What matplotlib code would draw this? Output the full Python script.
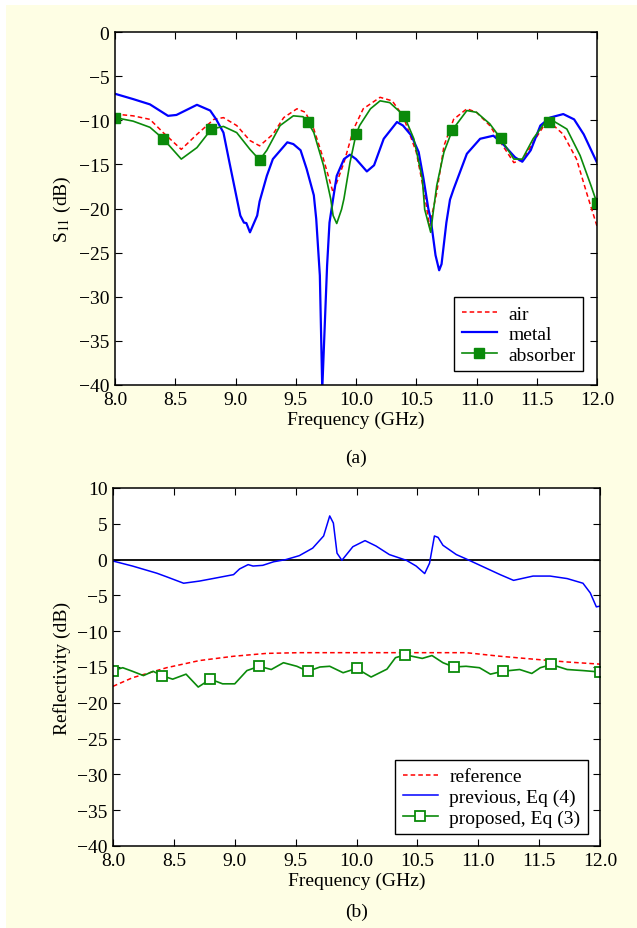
"""S11 and reflectivity comparison, two stacked panels."""
import matplotlib

matplotlib.use("Agg")
import matplotlib.pyplot as plt
import numpy as np
from matplotlib.patches import Rectangle

plt.rcParams.update({
    "font.family": ["Liberation Serif", "DejaVu Serif"],
    "mathtext.fontset": "stix",
    "font.size": 14,
    "xtick.direction": "in",
    "ytick.direction": "in",
    "xtick.top": True,
    "ytick.right": True,
    "xtick.major.size": 5,
    "ytick.major.size": 5,
    "xtick.major.pad": 4,
    "ytick.major.pad": 4,
    "axes.linewidth": 1.1,
})

# ---- panel (a): S11 ----
air_f = [8.0, 8.15, 8.29, 8.4, 8.55, 8.68, 8.82, 8.9, 9.01, 9.12, 9.2, 9.31, 9.4,
         9.51, 9.58, 9.65, 9.73, 9.81, 9.9, 9.98, 10.06, 10.2, 10.3, 10.39, 10.5,
         10.57, 10.61, 10.67, 10.73, 10.81, 10.92, 11.0, 11.11, 11.2, 11.31, 11.39,
         11.47, 11.56, 11.64, 11.72, 11.83, 11.92, 12.0]
air_db = [-9.3, -9.5, -9.9, -11.4, -13.3, -11.6, -9.9, -9.7, -10.6, -12.3, -12.9,
          -11.6, -9.7, -8.7, -9.1, -11.0, -14.4, -18.2, -14.8, -11.0, -8.7, -7.4,
          -7.8, -9.5, -13.6, -18.5, -22.0, -18.2, -12.9, -9.9, -8.7, -9.1, -10.6,
          -12.5, -14.8, -14.4, -12.5, -10.6, -10.6, -11.6, -14.4, -18.5, -22.0]

metal_f = [8.0, 8.15, 8.29, 8.44, 8.51, 8.68, 8.79, 8.84, 8.9, 8.95, 9.01, 9.04,
           9.07, 9.09, 9.12, 9.18, 9.2, 9.26, 9.31, 9.43, 9.48, 9.54, 9.59, 9.65,
           9.67, 9.7, 9.72, 9.76, 9.78, 9.81, 9.84, 9.9, 9.95, 10.0, 10.09, 10.15,
           10.23, 10.34, 10.39, 10.46, 10.52, 10.56, 10.6, 10.62, 10.66, 10.69,
           10.71, 10.75, 10.78, 10.81, 10.92, 11.03, 11.14, 11.22, 11.32, 11.38,
           11.45, 11.53, 11.61, 11.72, 11.81, 11.89, 12.0]
metal_db = [-7.0, -7.6, -8.2, -9.5, -9.4, -8.25, -8.9, -9.9, -11.4, -14.8, -18.8,
            -20.8, -21.6, -21.65, -22.7, -20.8, -19.2, -16.3, -14.4, -12.5, -12.7,
            -13.4, -15.5, -18.5, -21.2, -27.6, -40.5, -26.5, -21.6, -18.9, -16.3,
            -14.4, -13.9, -14.4, -15.8, -15.1, -12.1, -10.2, -10.6, -11.75, -13.6,
            -16.6, -20.0, -21.2, -25.3, -27.0, -26.3, -21.6, -19.0, -17.8, -13.8,
            -12.1, -11.75, -12.7, -14.2, -14.7, -13.4, -10.6, -9.7, -9.3, -9.9,
            -11.6, -14.8]

absorber_f = [8.0, 8.15, 8.29, 8.4, 8.55, 8.68, 8.8, 8.9, 9.01, 9.12, 9.2, 9.26,
              9.37, 9.48, 9.56, 9.6, 9.65, 9.73, 9.79, 9.81, 9.84, 9.88, 9.9, 9.95,
              10.0, 10.03, 10.12, 10.2, 10.28, 10.4, 10.48, 10.55, 10.57, 10.62,
              10.64, 10.67, 10.73, 10.8, 10.92, 11.0, 11.11, 11.2, 11.31, 11.38,
              11.47, 11.56, 11.6, 11.64, 11.75, 11.86, 11.95, 12.0]
absorber_db = [-9.7, -10.1, -10.8, -12.1, -14.4, -13.1, -11.0, -10.7, -11.4,
               -13.3, -14.5, -13.4, -10.6, -9.5, -9.6, -10.2, -11.4, -15.1, -18.9,
               -20.8, -21.7, -20.1, -18.9, -14.8, -11.6, -10.6, -8.7, -7.8, -8.0,
               -9.5, -12.1, -16.6, -20.1, -22.7, -20.5, -17.4, -13.6, -11.1, -8.9,
               -9.1, -10.4, -12.05, -14.4, -14.4, -12.1, -10.4, -10.2, -10.1,
               -11.0, -14.0, -17.4, -19.4]

marker_f = [8.0, 8.4, 8.8, 9.2, 9.6, 10.0, 10.4, 10.8, 11.2, 11.6, 12.0]

# ---- panel (b): reflectivity ----
ref_f = [8.0, 8.16, 8.44, 8.71, 8.99, 9.26, 9.53, 9.81, 10.36, 10.63, 10.9, 11.18,
         11.45, 11.73, 12.0]
ref_db = [-17.7, -16.5, -15.1, -14.1, -13.5, -13.1, -13.0, -13.0, -13.0, -13.0,
          -13.0, -13.5, -13.9, -14.3, -14.6]

prev_f = [8.0, 8.16, 8.36, 8.44, 8.58, 8.71, 8.82, 8.99, 9.04, 9.11, 9.15, 9.23,
          9.32, 9.42, 9.53, 9.64, 9.73, 9.78, 9.81, 9.84, 9.88, 9.97, 10.07, 10.16,
          10.27, 10.41, 10.49, 10.56, 10.6, 10.64, 10.67, 10.71, 10.82, 10.9,
          11.04, 11.18, 11.29, 11.37, 11.45, 11.59, 11.73, 11.86, 11.92, 11.97, 12.0]
prev_db = [-0.2, -0.9, -1.9, -2.4, -3.3, -3.0, -2.65, -2.1, -1.3, -0.7, -0.9,
           -0.8, -0.3, 0.0, 0.55, 1.6, 3.3, 6.1, 5.1, 0.9, -0.1, 1.8, 2.65, 1.9,
           0.7, -0.1, -0.9, -1.95, -0.5, 3.3, 3.1, 2.0, 0.7, 0.1, -1.0, -2.1,
           -2.9, -2.6, -2.3, -2.3, -2.65, -3.3, -4.65, -6.6, -6.5]

prop_f = [8.0, 8.08, 8.16, 8.25, 8.33, 8.4, 8.49, 8.6, 8.7, 8.8, 8.9, 9.0, 9.1,
          9.2, 9.3, 9.4, 9.51, 9.6, 9.7, 9.78, 9.89, 10.0, 10.12, 10.25, 10.32,
          10.4, 10.54, 10.62, 10.71, 10.8, 10.9, 11.01, 11.1, 11.2, 11.34, 11.44,
          11.51, 11.6, 11.73, 11.86, 12.0]
prop_db = [-15.5, -15.1, -15.6, -16.2, -15.6, -16.2, -16.7, -16.0, -17.8, -16.7,
           -17.35, -17.35, -15.5, -14.9, -15.35, -14.4, -14.9, -15.6, -15.0,
           -14.9, -15.8, -15.2, -16.4, -15.3, -13.7, -13.3, -13.8, -13.4, -14.4,
           -15.0, -14.9, -15.1, -16.0, -15.6, -15.35, -15.9, -15.1, -14.65,
           -15.35, -15.5, -15.7]

GREEN = "#0a8a0a"
FRAME_BG = "#fefee4"

fig = plt.figure(figsize=(6.37, 9.29), dpi=100, facecolor="white")
fig.patches.append(Rectangle((6 / 637, 0), 1, 1 - 6 / 929, transform=fig.transFigure,
                             facecolor=FRAME_BG, edgecolor="none", zorder=-10))

# top panel
ax1 = fig.add_axes([115 / 637, 1 - 386 / 929, 482 / 637, 353 / 929])
ax1.plot(air_f, air_db, "--", color="red", lw=1.1, dashes=(3, 2), label="air")
ax1.plot(metal_f, metal_db, "-", color="#0000ff", lw=1.6, label="metal")
mk = np.flatnonzero(np.isin(absorber_f, marker_f))
ax1.plot(absorber_f, absorber_db, "-", color=GREEN, lw=1.2, marker="s", ms=7.5,
         mfc=GREEN, mec=GREEN, markevery=list(mk), label="absorber")
ax1.set_xlim(8, 12)
ax1.set_ylim(-40, 0)
ax1.set_xticks(np.arange(8, 12.01, 0.5))
ax1.set_yticks(np.arange(-40, 0.1, 5))
ax1.set_xticklabels([f"{v:.1f}" for v in np.arange(8, 12.01, 0.5)])
ax1.set_xlabel("Frequency (GHz)", labelpad=2)
ax1.set_ylabel(r"S$_{11}$ (dB)", labelpad=4)
leg1 = ax1.legend(loc="lower right", frameon=True, fancybox=False, framealpha=1,
                  edgecolor="black", handlelength=1.8, borderaxespad=0.7,
                  borderpad=0.4, labelspacing=0.15, handletextpad=0.6)
leg1.get_frame().set_linewidth(1.0)
fig.text(0.5 * (115 + 597) / 637, 1 - 458 / 929, "(a)", ha="center", va="center")

# bottom panel
ax2 = fig.add_axes([113 / 637, 1 - 847 / 929, 487 / 637, 358 / 929])
ax2.axhline(0, color="black", lw=1.3, zorder=1)
ax2.plot(ref_f, ref_db, "--", color="red", lw=1.1, dashes=(3, 2), label="reference")
ax2.plot(prev_f, prev_db, "-", color="#0000ff", lw=1.1, label="previous, Eq (4)")
mk2 = np.flatnonzero(np.isin(prop_f, marker_f))
ax2.plot(prop_f, prop_db, "-", color=GREEN, lw=1.2, marker="s", ms=7.5,
         mfc="white", mec=GREEN, mew=1.3, markevery=list(mk2),
         label="proposed, Eq (3)")
ax2.set_xlim(8, 12)
ax2.set_ylim(-40, 10)
ax2.set_xticks(np.arange(8, 12.01, 0.5))
ax2.set_yticks(np.arange(-40, 10.1, 5))
ax2.set_xticklabels([f"{v:.1f}" for v in np.arange(8, 12.01, 0.5)])
ax2.set_xlabel("Frequency (GHz)", labelpad=2)
ax2.set_ylabel("Reflectivity (dB)", labelpad=4)
leg2 = ax2.legend(loc="lower right", frameon=True, fancybox=False, framealpha=1,
                  edgecolor="black", handlelength=1.8, borderaxespad=0.6,
                  borderpad=0.4, labelspacing=0.15, handletextpad=0.6)
leg2.get_frame().set_linewidth(1.0)
fig.text(0.5 * (113 + 600) / 637, 1 - 912 / 929, "(b)", ha="center", va="center")

fig.savefig("out.png", dpi=100, facecolor=fig.get_facecolor())
